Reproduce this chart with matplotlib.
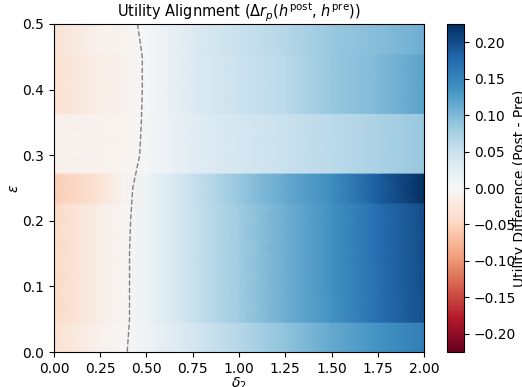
import numpy as np
import matplotlib
matplotlib.use("Agg")
import matplotlib.pyplot as plt
from matplotlib.colors import Normalize

# grid of the sweep
eps = [0.0, 0.05, 0.1, 0.15, 0.2, 0.25, 0.3, 0.35, 0.4, 0.45, 0.5]
delta2 = [0.0, 0.25, 0.375, 0.5, 0.75, 1.0, 1.25, 1.5, 1.75, 2.0]

# utility difference (post - pre), one row per epsilon
diff_eps_000 = [-0.035, -0.010, -0.002, 0.010, 0.040, 0.065, 0.090, 0.115, 0.135, 0.155]
diff_eps_005 = [-0.045, -0.015, -0.004, 0.011, 0.050, 0.080, 0.110, 0.135, 0.170, 0.198]
diff_eps_010 = [-0.045, -0.015, -0.004, 0.011, 0.050, 0.080, 0.110, 0.136, 0.170, 0.199]
diff_eps_015 = [-0.045, -0.015, -0.004, 0.011, 0.050, 0.080, 0.110, 0.136, 0.171, 0.199]
diff_eps_020 = [-0.045, -0.015, -0.005, 0.011, 0.050, 0.080, 0.110, 0.137, 0.171, 0.200]
diff_eps_025 = [-0.055, -0.030, -0.0075, 0.011, 0.050, 0.085, 0.115, 0.140, 0.185, 0.225]
diff_eps_030 = [-0.012, -0.008, -0.006, 0.0025, 0.025, 0.040, 0.050, 0.060, 0.072, 0.085]
diff_eps_035 = [-0.012, -0.008, -0.007, 0.002, 0.025, 0.040, 0.050, 0.060, 0.072, 0.085]
diff_eps_040 = [-0.035, -0.015, -0.009, 0.002, 0.030, 0.048, 0.060, 0.085, 0.100, 0.120]
diff_eps_045 = [-0.035, -0.015, -0.009, 0.002, 0.030, 0.048, 0.060, 0.085, 0.100, 0.120]
diff_eps_050 = [-0.030, -0.010, -0.0055, 0.0035, 0.030, 0.050, 0.065, 0.085, 0.095, 0.110]

Z = np.array([diff_eps_000, diff_eps_005, diff_eps_010, diff_eps_015,
              diff_eps_020, diff_eps_025, diff_eps_030, diff_eps_035,
              diff_eps_040, diff_eps_045, diff_eps_050])

vmax = np.abs(Z).max()
norm = Normalize(vmin=-vmax, vmax=vmax)
cmap = plt.get_cmap("RdBu")

fig = plt.figure(figsize=(5.22, 3.87), dpi=100)
ax = fig.add_axes([0.1034, 0.0904, 0.7089, 0.8476])
cax = fig.add_axes([0.8563, 0.0904, 0.0326, 0.8476])

# rows stacked like imshow with extent [0, 2, 0, 0.5]
n_rows = len(eps)
h = 0.5 / n_rows
x = np.array(delta2)
for i, row in enumerate(Z):
    ax.pcolormesh(x, [i * h, (i + 1) * h], np.vstack([row, row]),
                  shading="gouraud", cmap=cmap, norm=norm)

ax.contour(x, eps, Z, levels=[0], colors="gray", linestyles="--", linewidths=1)

ax.set_xlim(0, 2)
ax.set_ylim(0, 0.5)
ax.set_xlabel(r"$\delta_2$", labelpad=0)
ax.set_ylabel(r"$\epsilon$", labelpad=1)
ax.set_title(r"Utility Alignment ($\Delta r_p(h^{\mathrm{post}}$, $h^{\mathrm{pre}})$)",
             fontsize=10.5, pad=3)

sm = plt.cm.ScalarMappable(norm=norm, cmap=cmap)
cb = fig.colorbar(sm, cax=cax)
cb.set_ticks([-0.2, -0.15, -0.1, -0.05, 0, 0.05, 0.1, 0.15, 0.2])
cb.set_label("Utility Difference (Post - Pre)", labelpad=-2)

fig.savefig("out.png", dpi=100)
